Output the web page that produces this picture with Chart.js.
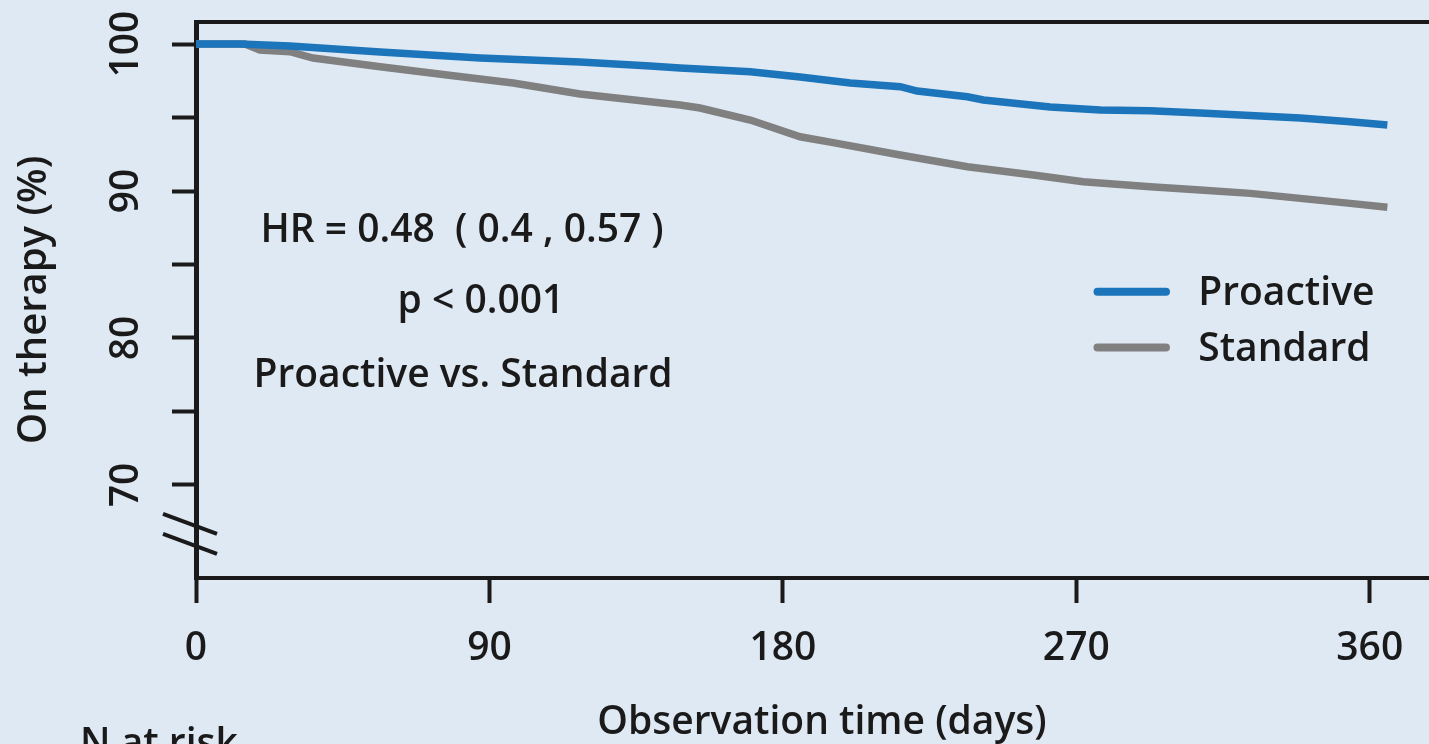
<!DOCTYPE html>
<html><head><meta charset="utf-8">
<script src="https://cdn.jsdelivr.net/npm/chart.js@4.4.1/dist/chart.umd.min.js"></script>
<style>
html,body{margin:0;padding:0;background:#dfe9f4;overflow:hidden;width:1429px;height:744px;}
canvas{display:block;}
</style></head><body>
<canvas id="c" width="1448" height="744"></canvas>
<script>
// ---- data ----
const seriesNames = ['Proactive', 'Standard'];
const proactiveDays   = [0, 13.5, 28.8, 56.5, 87.1, 117.8, 139.3, 148.5, 170, 185.3, 200.7, 216, 221.2, 236.6, 241.5, 262, 277.4, 292.7, 308, 338.7, 354, 365.4];
const proactiveValues = [100, 100, 99.86, 99.46, 99.05, 98.78, 98.50, 98.37, 98.12, 97.76, 97.35, 97.10, 96.80, 96.41, 96.19, 95.71, 95.51, 95.46, 95.31, 94.97, 94.71, 94.49];
const standardDays    = [0, 15, 19.6, 28.8, 35.9, 56.5, 77, 97.3, 117.8, 139.3, 148.5, 154.6, 170, 185.3, 195.4, 216, 236.6, 256.8, 272.1, 292.7, 308, 323.4, 338.7, 354, 365.4];
const standardValues  = [100, 100, 99.59, 99.48, 99.05, 98.46, 97.89, 97.35, 96.60, 96.07, 95.85, 95.65, 94.83, 93.69, 93.29, 92.45, 91.65, 91.09, 90.63, 90.29, 90.07, 89.84, 89.50, 89.16, 88.89];
const xTickValues = [0, 90, 180, 270, 360];
const yTickValues = [70, 75, 80, 85, 90, 95, 100];
const yTickLabels = ['70', '', '80', '', '90', '', '100'];
const statLines = ['HR = 0.48  ( 0.4 , 0.57 )', 'p < 0.001', 'Proactive vs. Standard'];
const xTitle = 'Observation time (days)';
const yTitle = 'On therapy (%)';
const tableHeading = 'N at risk';

// ---- styling ----
const FONT = "'Open Sans', sans-serif";
const INK = '#1a1a1a';
const BG = '#dfe9f4';
const BLUE = '#1c75bb';
const GREY = '#808080';
const FS = 39;

const pts = (xs, ys) => xs.map((x, i) => ({x: x, y: ys[i]}));

const decor = {
  id: 'decor',
  beforeDraw(chart) {
    const c = chart.ctx;
    c.save(); c.fillStyle = BG; c.fillRect(0, 0, chart.width, chart.height); c.restore();
  },
  afterDraw(chart) {
    const c = chart.ctx, a = chart.chartArea, xs = chart.scales.x, ys = chart.scales.y;
    c.save();
    // top frame line
    c.strokeStyle = INK; c.lineWidth = 4; c.lineCap = 'butt';
    c.beginPath(); c.moveTo(a.left - 2, a.top); c.lineTo(a.right, a.top); c.stroke();
    // axis break marks
    [67.35, 65.99].forEach(v => {
      const cy = ys.getPixelForValue(v), cx = a.left - 6;
      c.beginPath(); c.moveTo(cx - 27, cy - 10); c.lineTo(cx + 27, cy + 10); c.stroke();
    });
    // statistics text
    c.fillStyle = INK; c.font = '600 ' + FS + 'px ' + FONT; c.textAlign = 'center'; c.textBaseline = 'alphabetic';
    const statPos = [[81.6, 86.53], [87.4, 81.70], [81.9, 76.67]];
    statLines.forEach((t, i) => c.fillText(t, xs.getPixelForValue(statPos[i][0]), ys.getPixelForValue(statPos[i][1])));
    // legend
    const legY = [83.15, 79.35];
    chart.data.datasets.forEach((ds, i) => {
      const y = ys.getPixelForValue(legY[i]);
      c.strokeStyle = ds.borderColor; c.lineWidth = 8; c.lineCap = 'round';
      c.beginPath(); c.moveTo(xs.getPixelForValue(276.5), y); c.lineTo(xs.getPixelForValue(297.5), y); c.stroke();
      c.fillStyle = INK; c.textAlign = 'left'; c.textBaseline = 'middle';
      c.fillText(ds.label, xs.getPixelForValue(307.4), y + 2);
    });
    // table heading (cut off at bottom)
    c.textAlign = 'left'; c.textBaseline = 'alphabetic';
    c.fillText(tableHeading, 80, a.bottom + 178);
    c.restore();
  }
};

new Chart(document.getElementById('c'), {
  type: 'line',
  data: {
    datasets: [
      {label: seriesNames[0], data: pts(proactiveDays, proactiveValues), borderColor: BLUE, borderWidth: 7.5, pointRadius: 0, tension: 0, fill: false},
      {label: seriesNames[1], data: pts(standardDays, standardValues), borderColor: GREY, borderWidth: 7.5, pointRadius: 0, tension: 0, fill: false}
    ]
  },
  options: {
    responsive: false, animation: false, devicePixelRatio: 1,
    layout: {padding: {top: 22, left: 0, right: 0, bottom: 0}},
    plugins: {legend: {display: false}, tooltip: {enabled: false}},
    scales: {
      x: {
        type: 'linear', min: 0, max: 384,
        afterBuildTicks: s => { s.ticks = xTickValues.map(v => ({value: v})); },
        afterFit: s => { s.height = 166; s.paddingLeft = 0; s.paddingRight = 0; },
        ticks: {autoSkip: false, maxRotation: 0, padding: 22, color: INK, font: {family: FONT, size: FS, weight: '600'}},
        grid: {drawOnChartArea: false, drawTicks: true, tickLength: 25, tickWidth: 4, tickColor: INK},
        border: {display: true, color: INK, width: 4},
        title: {display: true, text: xTitle, color: INK, font: {family: FONT, size: FS, weight: '600'}, padding: {top: 0, bottom: -2}}
      },
      y: {
        type: 'linear', min: 63.67, max: 101.5,
        afterBuildTicks: s => { s.ticks = yTickValues.map(v => ({value: v})); },
        afterFit: s => { s.width = 196; s.paddingTop = 0; s.paddingBottom = 0; },
        ticks: {autoSkip: false, minRotation: 90, maxRotation: 90, crossAlign: 'center', padding: 12, color: INK,
                font: {family: FONT, size: FS, weight: '600'},
                callback: (v) => { const i = yTickValues.indexOf(v); return i >= 0 ? yTickLabels[i] : ''; }},
        grid: {drawOnChartArea: false, drawTicks: true, tickLength: 24, tickWidth: 4, tickColor: INK},
        border: {display: true, color: INK, width: 5},
        title: {display: true, text: yTitle, color: INK, font: {family: FONT, size: 40, weight: '600'}, padding: {top: 11, bottom: 0}}
      }
    }
  },
  plugins: [decor]
});
</script>
</body></html>
